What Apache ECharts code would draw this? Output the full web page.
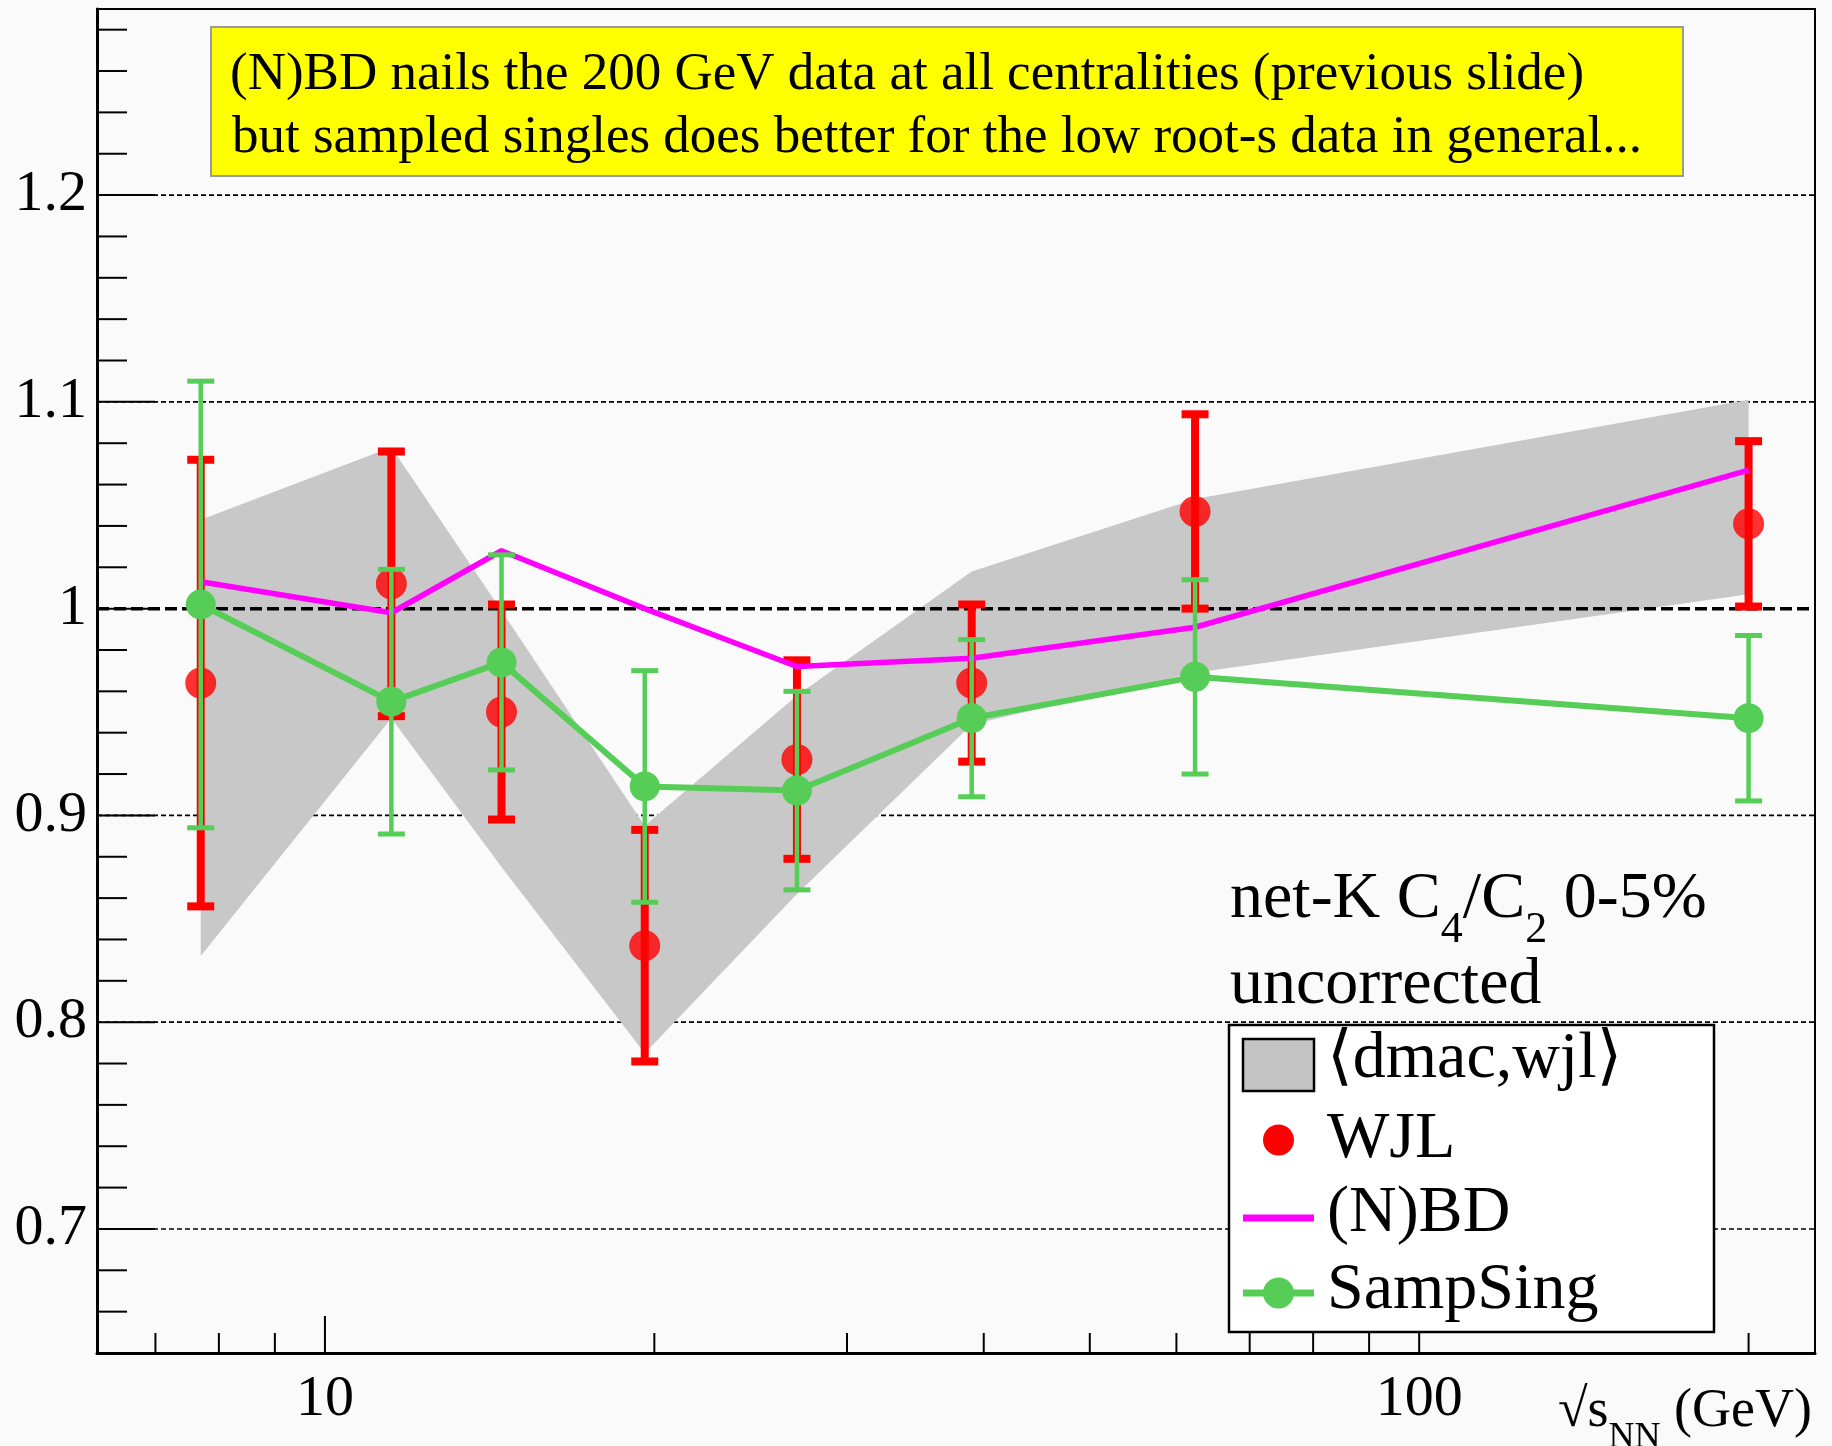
<!DOCTYPE html>
<html>
<head>
<meta charset="utf-8">
<title>net-K C4/C2 0-5%</title>
<script src="https://cdn.jsdelivr.net/npm/echarts@6.0.0/dist/echarts.min.js"></script>
<style>
  html, body { margin: 0; padding: 0; background: #fafafa; }
  #chart { width: 1832px; height: 1446px; }
</style>
</head>
<body>
<div id="chart"></div>
<script>
// sqrt(s_NN) of the BES points, GeV
const energies = [7.7, 11.5, 14.5, 19.6, 27, 39, 62.4, 200];

const wjl = [0.964, 1.012, 0.950, 0.837, 0.927, 0.964, 1.047, 1.041];
const wjlErr = [0.108, 0.064, 0.052, 0.056, 0.048, 0.038, 0.047, 0.040];

const nbd = [1.013, 0.998, 1.028, 1.000, 0.972, 0.976, 0.991, 1.067];

const sampSing = [1.002, 0.955, 0.974, 0.914, 0.912, 0.947, 0.967, 0.947];
const sampSingErr = [0.108, 0.064, 0.052, 0.056, 0.048, 0.038, 0.047, 0.040];

// <dmac,wjl> band
const bandLow = [0.832, 0.947, 0.875, 0.785, 0.862, 0.944, 0.969, 1.007];
const bandHigh = [1.043, 1.078, 0.999, 0.895, 0.958, 1.018, 1.053, 1.101];

const yLabels = [0.7, 0.8, 0.9, 1, 1.1, 1.2];
const yGrid = [0.7, 0.8, 0.9, 1.1, 1.2];
const yMinorTicks = [0.66, 0.68, 0.72, 0.74, 0.76, 0.78, 0.82, 0.84, 0.86, 0.88, 0.92, 0.94, 0.96, 0.98,
  1.02, 1.04, 1.06, 1.08, 1.12, 1.14, 1.16, 1.18, 1.22, 1.24, 1.26, 1.28];
const xLabels = [10, 100];
const xMinorTicks = [7, 8, 9, 20, 30, 40, 50, 60, 70, 80, 90, 200];

const titleLines = [
  '(N)BD nails the 200 GeV data at all centralities (previous slide)',
  'but sampled singles does better for the low root-s data in general...'
];

const X_MIN = 6.19, X_MAX = 230, Y_MIN = 0.64, Y_MAX = 1.29;
const SERIF = '"Liberation Serif", "DejaVu Serif", serif';
const RED = '#ff0000', GREEN = '#56cd56', MAGENTA = '#ff00ff', BAND = '#c8c8c8';

const chart = echarts.init(document.getElementById('chart'));

const errorBars = (color, lineWidth, capWidth, capThick) => (params, api) => {
  const x = api.value(0);
  const top = api.coord([x, api.value(2)]);
  const bottom = api.coord([x, api.value(1)]);
  const half = capWidth / 2;
  return {
    type: 'group',
    children: [
      { type: 'line', shape: { x1: top[0], y1: top[1], x2: bottom[0], y2: bottom[1] }, style: { stroke: color, lineWidth } },
      { type: 'line', shape: { x1: top[0] - half, y1: top[1], x2: top[0] + half, y2: top[1] }, style: { stroke: color, lineWidth: capThick } },
      { type: 'line', shape: { x1: bottom[0] - half, y1: bottom[1], x2: bottom[0] + half, y2: bottom[1] }, style: { stroke: color, lineWidth: capThick } }
    ]
  };
};

const hLine = (api, v, style) => {
  const a = api.coord([X_MIN, v]);
  const b = api.coord([X_MAX, v]);
  return { type: 'line', shape: { x1: a[0], y1: a[1], x2: b[0], y2: b[1] }, style };
};

const legendText = (text, y) => ({
  type: 'text', x: 1327, y, z: 102,
  style: { text, fill: '#000', fontSize: 66, fontFamily: SERIF, verticalAlign: 'middle' }
});

const option = {
  backgroundColor: '#fafafa',
  animation: false,
  grid: {
    left: 97, right: 17, top: 9, bottom: 93,
    outerBoundsMode: 'none',
    containLabel: false,
    show: true, backgroundColor: '#fafafa', borderColor: '#000', borderWidth: 2
  },
  xAxis: {
    type: 'log',
    logBase: 10,
    min: X_MIN,
    max: X_MAX,
    axisLine: { lineStyle: { color: '#000', width: 3 } },
    axisTick: { show: false },
    splitLine: { show: false },
    axisLabel: {
      color: '#000', fontSize: 58, fontFamily: SERIF, margin: 18,
      formatter: v => xLabels.some(l => Math.abs(l - v) < 1e-6 * l) ? String(Math.round(v)) : ''
    },
    name: '{a|√s}{s|NN}{a| (GeV)}',
    nameLocation: 'end',
    nameGap: -3,
    nameTextStyle: {
      align: 'right',
      verticalAlign: 'top',
      padding: [32, 0, 0, 0],
      rich: {
        a: { fontSize: 54, fontFamily: SERIF, color: '#000', verticalAlign: 'top' },
        s: { fontSize: 36, fontFamily: SERIF, color: '#000', verticalAlign: 'top', padding: [35, 0, 0, 0] }
      }
    }
  },
  yAxis: {
    type: 'value',
    min: Y_MIN,
    max: Y_MAX,
    interval: 0.02,
    axisLine: { show: true, lineStyle: { color: '#000', width: 3 } },
    axisTick: { show: false },
    splitLine: { show: false },
    axisLabel: {
      color: '#000', fontSize: 58, fontFamily: SERIF, margin: 10,
      formatter: v => yLabels.some(l => Math.abs(l - v) < 1e-6) ? String(+v.toFixed(1)) : ''
    }
  },
  series: [
    {
      name: 'grid',
      type: 'custom',
      z: 1,
      silent: true,
      data: yGrid.map(v => [X_MIN, v]),
      renderItem: (params, api) => hLine(api, api.value(1), { stroke: '#000', lineWidth: 1.6, lineDash: [5, 3] })
    },
    {
      name: '⟨dmac,wjl⟩',
      type: 'custom',
      z: 2,
      silent: true,
      data: energies.map((e, i) => [e, bandLow[i], bandHigh[i]]),
      encode: { x: 0, y: [1, 2] },
      renderItem: (params, api) => {
        if (params.dataIndex !== 0) return null;
        const upper = energies.map((e, i) => api.coord([e, bandHigh[i]]));
        const lower = energies.map((e, i) => api.coord([e, bandLow[i]])).reverse();
        return { type: 'polygon', shape: { points: upper.concat(lower) }, style: { fill: BAND } };
      }
    },
    {
      name: 'unity',
      type: 'custom',
      z: 3,
      silent: true,
      data: [[X_MIN, 1]],
      renderItem: (params, api) => hLine(api, api.value(1), { stroke: '#000', lineWidth: 3.5, lineDash: [12, 5] })
    },
    {
      name: 'WJL err',
      type: 'custom',
      z: 4,
      data: energies.map((e, i) => [e, wjl[i] - wjlErr[i], wjl[i] + wjlErr[i]]),
      encode: { x: 0, y: [1, 2] },
      renderItem: errorBars(RED, 8, 27, 8)
    },
    {
      name: 'WJL',
      type: 'scatter',
      z: 5,
      symbol: 'circle',
      symbolSize: 31,
      itemStyle: { color: RED },
      data: energies.map((e, i) => [e, wjl[i]])
    },
    {
      name: '(N)BD',
      type: 'line',
      z: 6,
      showSymbol: false,
      symbol: 'none',
      lineStyle: { color: MAGENTA, width: 5.5 },
      data: energies.map((e, i) => [e, nbd[i]])
    },
    {
      name: 'SampSing err',
      type: 'custom',
      z: 7,
      data: energies.map((e, i) => [e, sampSing[i] - sampSingErr[i], sampSing[i] + sampSingErr[i]]),
      encode: { x: 0, y: [1, 2] },
      renderItem: errorBars(GREEN, 4.5, 27, 5)
    },
    {
      name: 'SampSing',
      type: 'line',
      z: 8,
      symbol: 'circle',
      symbolSize: 30,
      itemStyle: { color: GREEN },
      lineStyle: { color: GREEN, width: 6 },
      data: energies.map((e, i) => [e, sampSing[i]])
    },
    {
      name: 'ticks',
      type: 'custom',
      z: 9,
      silent: true,
      clip: false,
      data: [[10, 1]],
      renderItem: (params, api) => {
        const children = [];
        const style = { stroke: '#000', lineWidth: 2 };
        const yTick = (v, len) => {
          const p = api.coord([X_MIN, v]);
          children.push({ type: 'line', shape: { x1: p[0], y1: p[1], x2: p[0] + len, y2: p[1] }, style });
        };
        const xTick = (v, len) => {
          const p = api.coord([v, Y_MIN]);
          children.push({ type: 'line', shape: { x1: p[0], y1: p[1], x2: p[0], y2: p[1] - len }, style });
        };
        yLabels.forEach(v => yTick(v, 58));
        yMinorTicks.forEach(v => yTick(v, 30));
        xLabels.forEach(v => xTick(v, 37));
        xMinorTicks.forEach(v => xTick(v, 20));
        return { type: 'group', children };
      }
    }
  ],
  graphic: [
    // yellow comment box
    {
      type: 'rect', z: 100,
      shape: { x: 211, y: 27, width: 1472, height: 149 },
      style: { fill: '#ffff00', stroke: '#9a9a9a', lineWidth: 2 }
    },
    {
      type: 'text', x: 230, y: 75, z: 101,
      style: { text: titleLines[0], fill: '#000', fontSize: 53, fontFamily: SERIF, verticalAlign: 'middle' }
    },
    {
      type: 'text', x: 232, y: 138, z: 101,
      style: { text: titleLines[1], fill: '#000', fontSize: 53, fontFamily: SERIF, verticalAlign: 'middle' }
    },
    // plot label
    {
      type: 'text', x: 1230, y: 867, z: 101,
      style: {
        text: '{a|net-K C}{s|4}{a|/C}{s|2}{a| 0-5%}',
        rich: {
          a: { fontSize: 66, fontFamily: SERIF, fill: '#000', verticalAlign: 'top' },
          s: { fontSize: 44, fontFamily: SERIF, fill: '#000', verticalAlign: 'top', padding: [41, 0, 0, 0] }
        }
      }
    },
    {
      type: 'text', x: 1230, y: 986, z: 101,
      style: { text: 'uncorrected', fill: '#000', fontSize: 66, fontFamily: SERIF, verticalAlign: 'middle' }
    },
    // legend
    {
      type: 'rect', z: 101,
      shape: { x: 1229, y: 1025, width: 485, height: 307 },
      style: { fill: '#ffffff', stroke: '#000', lineWidth: 2.5 }
    },
    {
      type: 'rect', z: 102,
      shape: { x: 1243, y: 1039, width: 71, height: 52 },
      style: { fill: '#c4c4c4', stroke: '#000', lineWidth: 2.5 }
    },
    { type: 'circle', z: 102, shape: { cx: 1278.5, cy: 1140, r: 15.5 }, style: { fill: RED } },
    { type: 'line', z: 102, shape: { x1: 1243, y1: 1218, x2: 1314, y2: 1218 }, style: { stroke: MAGENTA, lineWidth: 7 } },
    { type: 'line', z: 102, shape: { x1: 1243, y1: 1293, x2: 1314, y2: 1293 }, style: { stroke: GREEN, lineWidth: 7 } },
    { type: 'circle', z: 103, shape: { cx: 1278.5, cy: 1293, r: 15.5 }, style: { fill: GREEN } },
    legendText('⟨dmac,wjl⟩', 1060),
    legendText('WJL', 1140),
    legendText('(N)BD', 1214),
    legendText('SampSing', 1291)
  ]
};

chart.setOption(option);

window.addEventListener('resize', () => chart.resize());
</script>
</body>
</html>
